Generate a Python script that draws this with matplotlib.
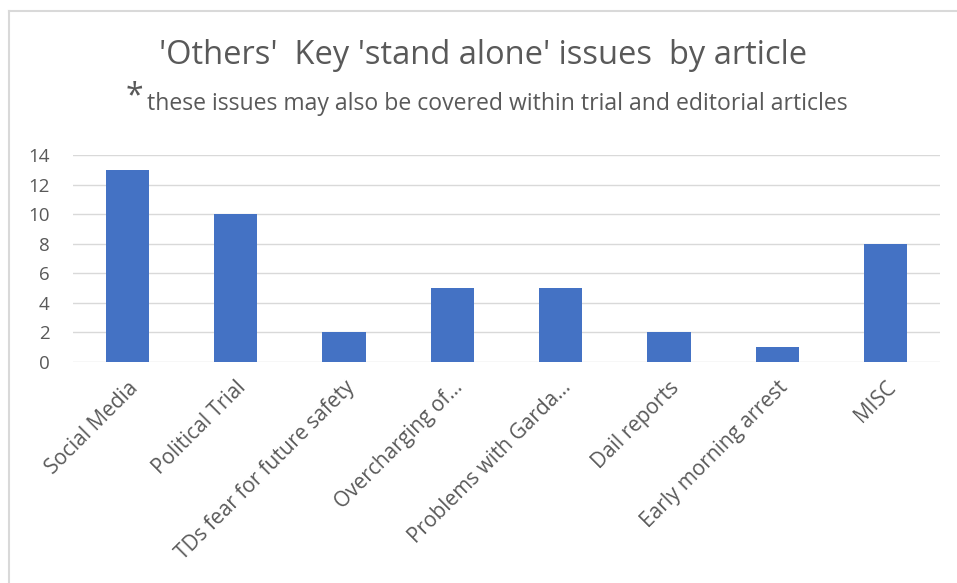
import matplotlib.pyplot as plt

plt.rcParams['font.family'] = ['Liberation Sans Narrow', 'Open Sans', 'DejaVu Sans']

# data
categories = ['Social Media', 'Political Trial', 'TDs fear for future safety',
              'Overcharging of...', 'Problems with Garda...', 'Dail reports',
              'Early morning arrest', 'MISC']
counts = [13, 10, 2, 5, 5, 2, 1, 8]
yticks = [0, 2, 4, 6, 8, 10, 12, 14]

fig = plt.figure(figsize=(9.57, 5.83), dpi=100)

# light chart border (top and left visible)
fig.add_artist(plt.Line2D([8.5/957, 1], [1-10.5/583, 1-10.5/583], color='#d9d9d9', lw=1.5))
fig.add_artist(plt.Line2D([8.5/957, 8.5/957], [0, 1-10.5/583], color='#d9d9d9', lw=1.5))

ax = fig.add_axes([73/957, 1-362/583, (940-73)/957, (362-155)/583])
x = range(len(categories))
ax.bar(x, counts, width=0.4, color='#4472c4', zorder=3)
ax.set_xlim(-0.5, len(categories)-0.5)
ax.set_ylim(0, 14)
ax.set_yticks(yticks)
ax.yaxis.grid(True, color='#d9d9d9', lw=1, zorder=0)
for s in ax.spines.values():
    s.set_visible(False)
ax.tick_params(axis='both', length=0, colors='#595959', labelsize=13.5)
ax.tick_params(axis='y', pad=17)
ax.set_xticks(list(x))
ax.set_xticklabels(categories, rotation=45, ha='right', rotation_mode='anchor', fontsize=15)
ax.tick_params(axis='x', pad=11)

fig.text(483/957, 1-55/583, "'Others'  Key 'stand alone' issues  by article",
         ha='center', va='center', fontsize=23.5, color='#595959')
fig.text(497/957, 1-104/583, "these issues may also be covered within trial and editorial articles",
         ha='center', va='center', fontsize=16.6, color='#595959')
fig.text(126/957, 1-97/583, "*", ha='left', va='center', fontsize=23, color='#595959')

plt.savefig('out.png', dpi=100)
